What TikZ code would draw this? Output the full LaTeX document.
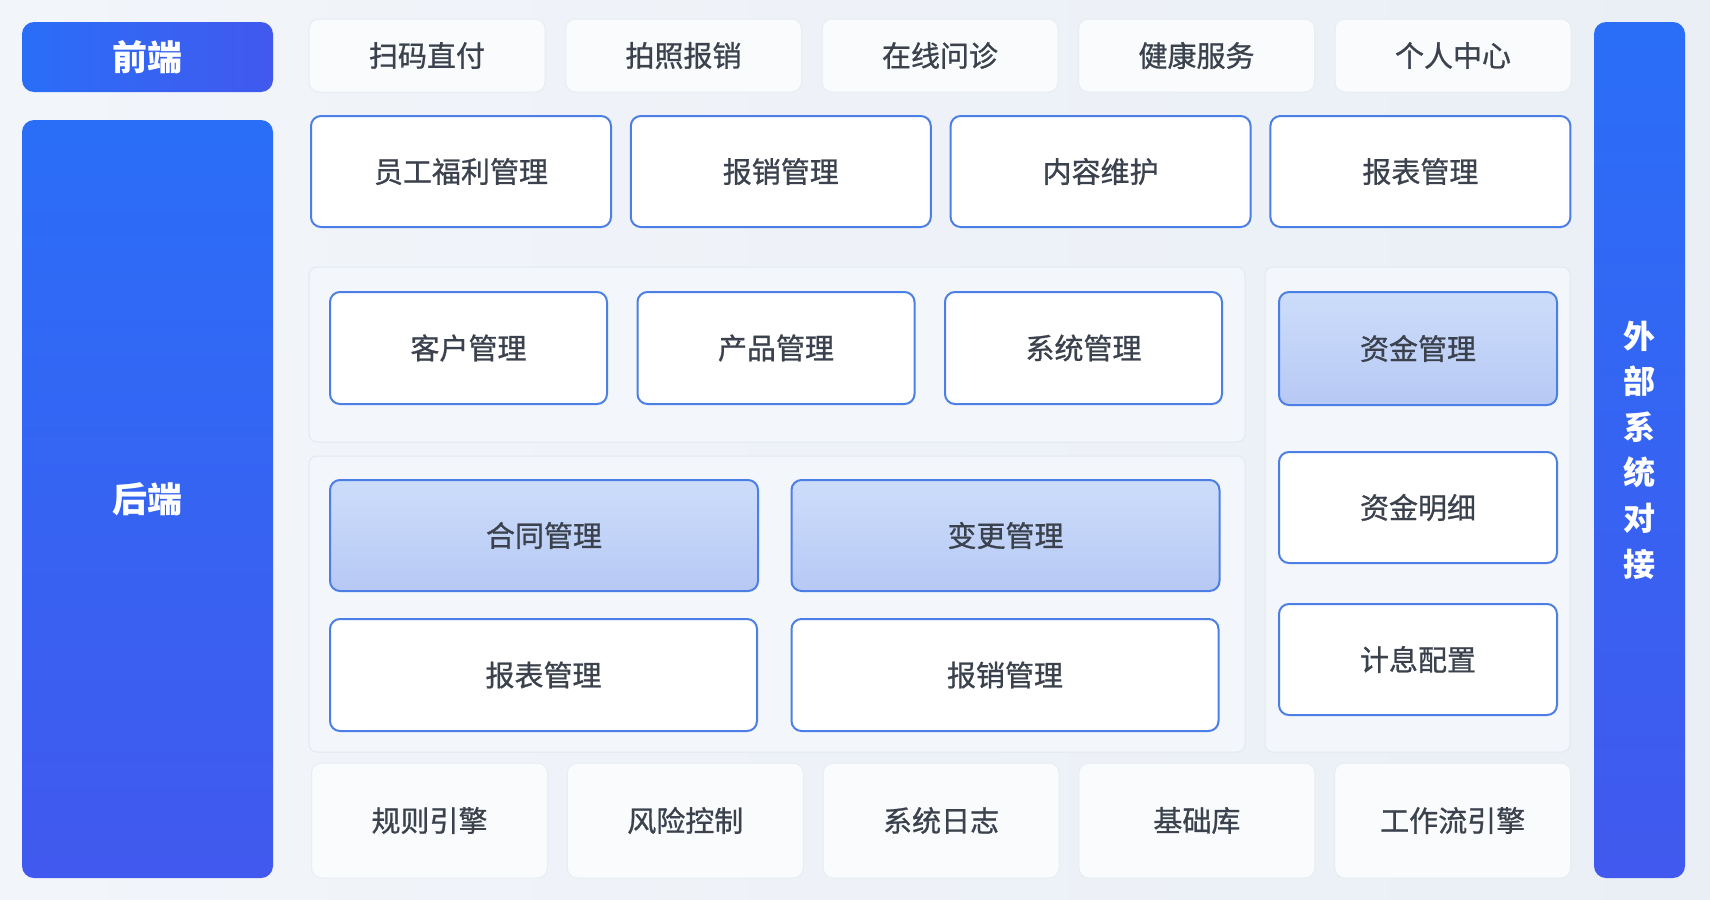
\documentclass[tikz,border=0pt]{standalone}
\usepackage{fontspec}
\usepackage{tikz}
\newfontfamily\cjk{Noto Sans CJK SC}
\newfontfamily\cjkmid[FakeBold=0.9]{Noto Sans CJK SC}

\definecolor{bgA}{HTML}{F2F5FA}
\definecolor{bgB}{HTML}{EAEFF6}
\definecolor{barA}{HTML}{2A6EF7}
\definecolor{barB}{HTML}{4159EE}
\definecolor{edgeblue}{HTML}{4C7FE6}
\definecolor{hotA}{HTML}{CCDDFB}
\definecolor{hotB}{HTML}{B7C9F4}
\definecolor{cardfill}{HTML}{F9FBFD}
\definecolor{cardedge}{HTML}{E8EDF4}
\definecolor{panelfill}{HTML}{F3F6FA}
\definecolor{paneledge}{HTML}{E3E9F1}
\definecolor{txt}{HTML}{3B424D}

\begin{document}
\begin{tikzpicture}[
    x=0.5pt, y=-0.5pt,
    every node/.style={font=\cjkmid\fontsize{14.5}{17}\selectfont, text=txt, inner sep=0pt},
    bar/.style={rounded corners=6pt, text=white, font=\cjk\bfseries\fontsize{17.5}{21}\selectfont},
    card/.style={minimum width=118pt, minimum height=36.5pt, rounded corners=5pt,
        fill=cardfill, draw=cardedge, line width=0.5pt},
    module/.style={rounded corners=5pt, fill=white, draw=edgeblue, line width=1pt},
    hot/.style={module, top color=hotA, bottom color=hotB},
    panel/.style={rounded corners=4pt, fill=panelfill, draw=paneledge, line width=0.5pt}
    ]

    % background
    \shade[left color=bgA, right color=bgB] (0,0) rectangle (1710,900);
    \useasboundingbox (0,0) rectangle (1710,900);

    % side bars
    \node[bar, left color=barA, right color=barB, minimum width=125.5pt, minimum height=35pt]
        (front) at (147.5,57) {前端};
    \node[bar, top color=barA, bottom color=barB, minimum width=125.5pt, minimum height=379pt]
        (back) at (147.5,499) {后端};
    \node[bar, top color=barA, bottom color=barB, minimum width=45.5pt, minimum height=428pt,
        align=center, font=\cjk\bfseries\fontsize{16}{22.8}\selectfont]
        (ext) at (1639.5,450) {外\\部\\系\\统\\对\\接};

    % group panels
    \draw[panel] (309,267) rectangle (1245,442);
    \draw[panel] (309,456) rectangle (1245,752);
    \draw[panel] (1265,267) rectangle (1570,752);

    % front end
    \foreach \t [count=\i] in {扫码直付,拍照报销,在线问诊,健康服务,个人中心}
        \node[card] (fe\i) at ({427+256.5*(\i-1)},55.5) {\t};

    % back end modules
    \foreach \t [count=\i] in {员工福利管理,报销管理,内容维护,报表管理}
        \node[module, minimum width=150pt, minimum height=55.5pt] (m\i) at ({461+319.8*(\i-1)},171.5) {\t};
    \foreach \t [count=\i] in {客户管理,产品管理,系统管理}
        \node[module, minimum width=138.5pt, minimum height=56pt] (b\i) at ({468.5+307.5*(\i-1)},348) {\t};
    \node[hot, minimum width=139pt, minimum height=56.5pt] (fund) at (1418,348.5) {资金管理};
    \node[module, minimum width=139pt, minimum height=55.5pt] (funddetail) at (1418,507.5) {资金明细};
    \node[module, minimum width=139pt, minimum height=55.5pt] (interest) at (1418,659.5) {计息配置};
    \node[hot, minimum width=214pt, minimum height=55.5pt] (contract) at (544,535.5) {合同管理};
    \node[hot, minimum width=214pt, minimum height=55.5pt] (change) at (1005.5,535.5) {变更管理};
    \node[module, minimum width=213.5pt, minimum height=56pt] (report) at (543.5,675) {报表管理};
    \node[module, minimum width=213.5pt, minimum height=56pt] (claim) at (1005,675) {报销管理};

    % base services
    \foreach \t [count=\i] in {规则引擎,风险控制,系统日志,基础库,工作流引擎}
        \node[card, minimum height=57.5pt] (base\i) at ({429.5+255.8*(\i-1)},820.5) {\t};

\end{tikzpicture}
\end{document}
